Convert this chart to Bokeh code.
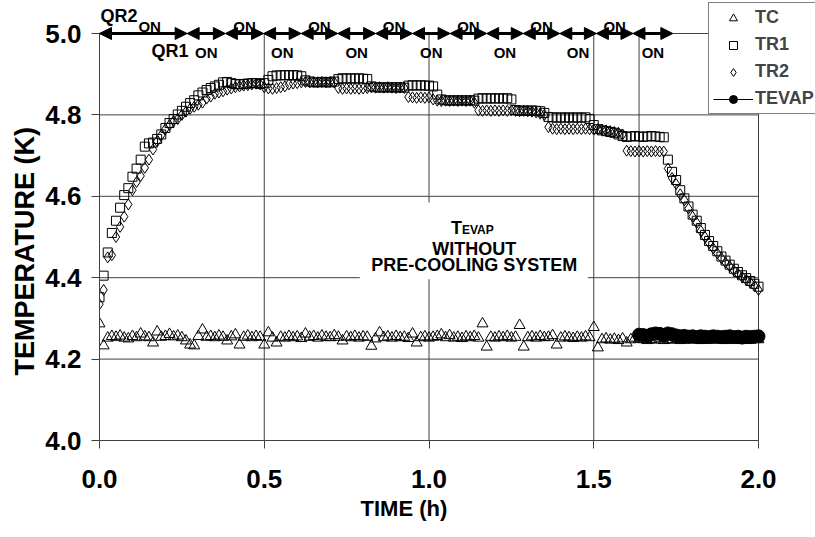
from bokeh.plotting import figure
from bokeh.models import (Range1d, FixedTicker, Legend, LegendItem, Label, Arrow,
                          NormalHead, BoxAnnotation, PrintfTickFormatter, Title)
from bokeh.embed import file_html
from bokeh.resources import INLINE

# ---------------- data ----------------
time_h = [round(i * 0.0125, 4) for i in range(161)]   # 45 s sampling, 0 .. 2 h

tc = [4.287, 4.233, 4.252, 4.256, 4.254, 4.257, 4.252, 4.250, 4.256, 4.253,
      4.262, 4.255, 4.253, 4.240, 4.267, 4.254, 4.256, 4.261, 4.255, 4.257,
      4.253, 4.245, 4.235, 4.233, 4.256, 4.272, 4.254, 4.256, 4.253, 4.257,
      4.254, 4.245, 4.255, 4.260, 4.235, 4.254, 4.257, 4.253, 4.256, 4.254,
      4.235, 4.265, 4.252, 4.240, 4.254, 4.252, 4.256, 4.253, 4.255, 4.251,
      4.262, 4.254, 4.256, 4.252, 4.257, 4.254, 4.253, 4.258, 4.254, 4.245,
      4.255, 4.253, 4.256, 4.252, 4.255, 4.254, 4.232, 4.250, 4.265, 4.253,
      4.255, 4.252, 4.256, 4.253, 4.254, 4.251, 4.262, 4.240, 4.253, 4.255,
      4.252, 4.254, 4.256, 4.260, 4.253, 4.258, 4.252, 4.254, 4.251, 4.255,
      4.253, 4.256, 4.252, 4.287, 4.230, 4.254, 4.252, 4.255, 4.253, 4.256,
      4.252, 4.254, 4.283, 4.230, 4.253, 4.255, 4.252, 4.256, 4.253, 4.254,
      4.258, 4.235, 4.252, 4.255, 4.253, 4.251, 4.254, 4.252, 4.255, 4.253,
      4.278, 4.228, 4.248, 4.250, 4.247, 4.249, 4.246, 4.250, 4.240, 4.248,
      4.252, 4.249, 4.248, 4.246, 4.249, 4.247, 4.250, 4.246, 4.248, 4.247,
      4.249, 4.246, 4.248, 4.247, 4.249, 4.248, 4.246, 4.248, 4.247, 4.249,
      4.247, 4.248, 4.246, 4.249, 4.247, 4.248, 4.246, 4.248, 4.247, 4.249,
      4.248]

tr1 = [4.352, 4.405, 4.462, 4.510, 4.540, 4.572, 4.603, 4.620, 4.648, 4.668,
       4.690, 4.722, 4.730, 4.732, 4.741, 4.752, 4.768, 4.780, 4.790, 4.801,
       4.810, 4.820, 4.829, 4.836, 4.848, 4.855, 4.861, 4.866, 4.870, 4.874,
       4.880, 4.881, 4.878, 4.876, 4.875, 4.876, 4.877, 4.878, 4.878, 4.876,
       4.878, 4.886, 4.895, 4.897, 4.897, 4.898, 4.897, 4.898, 4.897, 4.895,
       4.885, 4.882, 4.880, 4.880, 4.881, 4.880, 4.880, 4.882, 4.888, 4.890,
       4.889, 4.890, 4.889, 4.890, 4.889, 4.888, 4.870, 4.868, 4.867, 4.868,
       4.867, 4.868, 4.867, 4.868, 4.867, 4.872, 4.873, 4.872, 4.873, 4.872,
       4.872, 4.870, 4.850, 4.838, 4.836, 4.835, 4.836, 4.835, 4.836, 4.835,
       4.836, 4.835, 4.840, 4.841, 4.840, 4.841, 4.840, 4.841, 4.840, 4.841,
       4.838, 4.812, 4.810, 4.811, 4.810, 4.811, 4.810, 4.809, 4.805, 4.795,
       4.794, 4.793, 4.794, 4.793, 4.794, 4.793, 4.794, 4.793, 4.794, 4.790,
       4.775, 4.765, 4.762, 4.760, 4.758, 4.756, 4.752, 4.748, 4.746, 4.747,
       4.748, 4.747, 4.746, 4.747, 4.748, 4.747, 4.746, 4.745, 4.690, 4.660,
       4.640, 4.615, 4.595, 4.575, 4.555, 4.540, 4.522, 4.505, 4.490, 4.478,
       4.465, 4.452, 4.442, 4.432, 4.422, 4.414, 4.406, 4.399, 4.392, 4.385,
       4.378]

tr2 = [4.335, 4.370, 4.450, 4.455, 4.500, 4.525, 4.550, 4.580, 4.615, 4.635,
       4.650, 4.670, 4.690, 4.715, 4.735, 4.750, 4.765, 4.775, 4.785, 4.790,
       4.800, 4.808, 4.815, 4.820, 4.825, 4.830, 4.840, 4.845, 4.852, 4.855,
       4.858, 4.862, 4.865, 4.868, 4.870, 4.872, 4.873, 4.875, 4.877, 4.875,
       4.868, 4.865, 4.864, 4.866, 4.868, 4.870, 4.875, 4.877, 4.878, 4.880,
       4.881, 4.880, 4.881, 4.880, 4.881, 4.880, 4.881, 4.880, 4.866, 4.864,
       4.865, 4.864, 4.865, 4.864, 4.865, 4.866, 4.868, 4.867, 4.868, 4.867,
       4.868, 4.867, 4.866, 4.867, 4.866, 4.844, 4.843, 4.842, 4.843, 4.842,
       4.843, 4.838, 4.835, 4.834, 4.835, 4.834, 4.835, 4.834, 4.835, 4.834,
       4.835, 4.830, 4.811, 4.810, 4.811, 4.810, 4.811, 4.810, 4.811, 4.810,
       4.811, 4.810, 4.809, 4.810, 4.809, 4.808, 4.806, 4.803, 4.800, 4.770,
       4.766, 4.765, 4.766, 4.765, 4.766, 4.765, 4.766, 4.765, 4.766, 4.765,
       4.764, 4.765, 4.764, 4.762, 4.760, 4.758, 4.756, 4.752, 4.712, 4.711,
       4.710, 4.711, 4.710, 4.711, 4.710, 4.711, 4.710, 4.710, 4.668, 4.645,
       4.630, 4.605, 4.590, 4.570, 4.550, 4.535, 4.515, 4.500, 4.485, 4.472,
       4.460, 4.448, 4.437, 4.428, 4.418, 4.410, 4.402, 4.395, 4.388, 4.380,
       4.370]

tevap_time = time_h[131:]   # evaporator readings start at ~1.64 h
tevap = [4.260, 4.259, 4.257, 4.261, 4.263, 4.262, 4.258, 4.263, 4.261, 4.258,
         4.256, 4.257, 4.255, 4.256, 4.254, 4.256, 4.255, 4.254, 4.256, 4.255,
         4.254, 4.255, 4.256, 4.254, 4.255, 4.253, 4.255, 4.254, 4.255, 4.256]

# heater switching instants (h) shown by the arrows along the top
switch_times = [0.0, 0.266, 0.382, 0.498, 0.612, 0.723, 0.838, 0.95,
                1.064, 1.175, 1.286, 1.397, 1.508, 1.619, 1.74]

x_ticks = [0.0, 0.5, 1.0, 1.5, 2.0]
y_ticks = [4.0, 4.2, 4.4, 4.6, 4.8, 5.0]

# ---------------- figure ----------------
FONT = "Liberation Sans"
GRID = "#404040"

# The plotting frame is extended above 5.0 K and right of 2.0 h so the switching
# arrows, their labels and the legend (which sit outside the axes) are not clipped.
PX_PER_H = 329.5
PX_PER_K = 407.0
p = figure(width=815, height=537, output_backend="svg", toolbar_location=None,
           x_range=Range1d(0.0, 716 / PX_PER_H), y_range=Range1d(4.0, 4.0 + 440 / PX_PER_K),
           min_border_left=99, min_border_right=0, min_border_top=0,
           min_border_bottom=97)
p.outline_line_color = None
p.background_fill_color = "white"
p.border_fill_color = "white"
p.xgrid.visible = False
p.ygrid.visible = False

for ax in (p.xaxis[0], p.yaxis[0]):
    ax.axis_line_color = GRID
    ax.axis_line_width = 1
    ax.major_tick_line_color = GRID
    ax.major_tick_out = 8
    ax.major_tick_in = 0
    ax.minor_tick_line_color = None
    ax.major_label_text_font = FONT
    ax.major_label_text_font_style = "bold"
    ax.major_label_text_font_size = "26px"
    ax.major_label_text_color = "black"
    ax.formatter = PrintfTickFormatter(format="%.1f")

p.xaxis.ticker = FixedTicker(ticks=x_ticks)
p.yaxis.ticker = FixedTicker(ticks=y_ticks)
p.xaxis.bounds = (x_ticks[0], x_ticks[-1])
p.yaxis.bounds = (y_ticks[0], y_ticks[-1])
p.xaxis.major_label_standoff = 21
p.yaxis.major_label_standoff = 10

# axis titles (as titles so they can be placed like the original)
p.add_layout(Title(text="TIME (h)", align="left", offset=261, text_font=FONT,
                   text_font_style="bold", text_font_size="22px",
                   text_color="black", standoff=6), "below")
p.add_layout(Title(text="TEMPERATURE (K)", align="left", offset=65, text_font=FONT,
                   text_font_style="bold", text_font_size="27px",
                   text_color="black", standoff=6), "left")

# grid lines limited to the data box
n_y = len(y_ticks)
n_x = len(x_ticks)
p.segment(x0=[x_ticks[0]] * n_y, y0=y_ticks, x1=[x_ticks[-1]] * n_y, y1=y_ticks,
          line_color=GRID, line_width=1, level="underlay")
p.segment(x0=x_ticks, y0=[y_ticks[0]] * n_x, x1=x_ticks, y1=[y_ticks[-1]] * n_x,
          line_color=GRID, line_width=1, level="underlay")

# marker line from the top down to the first evaporator reading
p.segment(x0=[tevap_time[0]], y0=[y_ticks[-1]], x1=[tevap_time[0]], y1=[tevap[0]],
          line_color=GRID, line_width=1)

r_tc = p.scatter(time_h, tc, marker="triangle", size=11, fill_color=None,
                 line_color="black", line_width=1)
r_tr1 = p.scatter(time_h, tr1, marker="square", size=9, fill_color=None,
                  line_color="black", line_width=1)
r_tr2 = p.scatter(time_h, tr2, marker="diamond", size=11,
                  fill_color=None, line_color="black", line_width=1)
r_ev_line = p.line(tevap_time, tevap, line_color="black", line_width=1)
r_ev = p.scatter(tevap_time, tevap, marker="circle", size=13, fill_color="black",
                 line_color="black")

# ---------------- text box in the middle ----------------
p.add_layout(BoxAnnotation(left=0.79, right=1.482, bottom=4.396, top=4.585,
                           fill_color="white", fill_alpha=1.0, line_color=None))

def lab(x, y, text, size, align="center"):
    p.add_layout(Label(x=x, y=y, text=text, text_font=FONT, text_font_style="bold",
                       text_font_size=size, text_align=align,
                       text_baseline="alphabetic", text_color="black"))

lab(1.10, 4.5233, "T", "18px", "right")
lab(1.10, 4.516, "EVAP", "12px", "left")
lab(1.137, 4.4717, "WITHOUT", "18px")
lab(1.137, 4.430, "PRE-COOLING SYSTEM", "18px")

# ---------------- switching arrows along the top ----------------
for i in range(len(switch_times) - 1):
    p.add_layout(Arrow(x_start=switch_times[i], y_start=y_ticks[-1],
                       x_end=switch_times[i + 1], y_end=y_ticks[-1],
                       start=NormalHead(size=12, fill_color="black", line_color="black"),
                       end=NormalHead(size=12, fill_color="black", line_color="black"),
                       line_color="black", line_width=3))
    if i >= 1:
        mid = 0.5 * (switch_times[i] + switch_times[i + 1])
        if i % 2 == 0:
            lab(mid, 5.0172, "ON", "15px")
        else:
            lab(mid, 4.953, "ON", "15px")

lab(0.003, 5.044, "QR2", "18px", "left")
lab(0.118, 5.0172, "ON", "15px", "left")
lab(0.270, 4.958, "QR1", "18px", "right")

# ---------------- legend ----------------
legend = Legend(items=[LegendItem(label="TC", renderers=[r_tc]),
                       LegendItem(label="TR1", renderers=[r_tr1]),
                       LegendItem(label="TR2", renderers=[r_tr2]),
                       LegendItem(label="TEVAP", renderers=[r_ev_line, r_ev])],
                location=(609, 326))
legend.border_line_color = "black"
legend.border_line_width = 1
legend.background_fill_color = "white"
legend.background_fill_alpha = 1.0
legend.label_text_font = FONT
legend.label_text_font_style = "bold"
legend.label_text_font_size = "18px"
legend.glyph_width = 40
legend.glyph_height = 20
legend.spacing = 6
legend.padding = 4
legend.margin = 0
legend.label_standoff = 2
p.add_layout(legend)

open("out.html", "w").write(file_html(p, INLINE))
